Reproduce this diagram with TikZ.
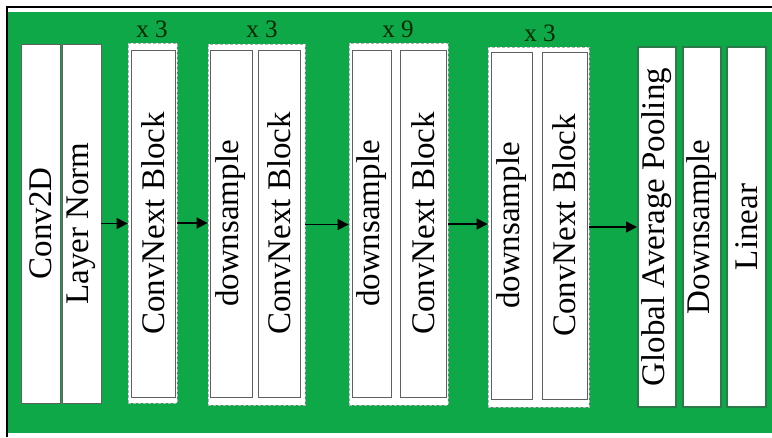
\documentclass[tikz,border=0pt]{standalone}
\usepackage{fontspec}
\usepackage{graphicx}
\setmainfont{Liberation Serif}
\usetikzlibrary{arrows.meta}
\definecolor{bggreen}{RGB}{14,168,72}
\definecolor{edgegreen}{RGB}{44,122,76}
\begin{document}
\begin{tikzpicture}[x=1pt,y=-1pt,
  box/.style={draw=gray!75!black, line width=0.7pt, fill=white, inner sep=0pt,
              font=\fontsize{33}{38}\selectfont},
  grp/.style={draw=gray!60, dash pattern=on 3pt off 2pt, line width=0.8pt, fill=white, inner sep=0pt},
  endbox/.style={draw=edgegreen, line width=2pt, fill=white, inner sep=0pt,
              font=\fontsize{33}{38}\selectfont},
  rep/.style={font=\fontsize{25}{28}\selectfont, text=black!85!green, inner sep=0pt},
  arr/.style={-{Triangle[length=11pt,width=11pt]}, line width=1.5pt}]
\useasboundingbox (0,0) rectangle (772,437);
\fill[white] (0,0) rectangle (772,437);
\fill[bggreen] (8,12) rectangle (772,433);
\draw[line width=1.2pt] (7,437) -- (7,7) -- (772,7);

% stem
\node[box, minimum width=39, minimum height=359] (conv) at (40.5,223.5) {\rotatebox{90}{Conv2D}};
\node[box, minimum width=39, minimum height=359] (ln) at (81.5,223.5) {\rotatebox{90}{Layer Norm}};

% stage 1
\node[grp, minimum width=49, minimum height=360] (g1) at (152.5,223) {};
\node[box, minimum width=44, minimum height=347] (cb1) at (153,223.5) {\rotatebox{90}{ConvNext Block}};
\node[rep] (r1) at (152,29) {x 3};

% stage 2
\node[grp, minimum width=97, minimum height=361] (g2) at (256.5,224.5) {};
\node[box, minimum width=42, minimum height=347] (ds2) at (231,223.5) {\rotatebox{90}{downsample}};
\node[box, minimum width=42, minimum height=347] (cb2) at (279,223.5) {\rotatebox{90}{ConvNext Block}};
\node[rep] (r2) at (262,29) {x 3};

% stage 3
\node[grp, minimum width=99, minimum height=362] (g3) at (398.5,224) {};
\node[box, minimum width=39, minimum height=347] (ds3) at (371.5,223.5) {\rotatebox{90}{downsample}};
\node[box, minimum width=46, minimum height=347] (cb3) at (423,223.5) {\rotatebox{90}{ConvNext Block}};
\node[rep] (r3) at (398,29.5) {x 9};

% stage 4
\node[grp, minimum width=101, minimum height=360] (g4) at (538.5,227) {};
\node[box, minimum width=41, minimum height=347] (ds4) at (511.5,225.5) {\rotatebox{90}{downsample}};
\node[box, minimum width=45, minimum height=347] (cb4) at (564.5,225.5) {\rotatebox{90}{ConvNext Block}};
\node[rep] (r4) at (540,33) {x 3};

% head
\node[endbox, minimum width=38, minimum height=360] (gap) at (657,227) {\rotatebox{90}{Global Average Pooling}};
\node[endbox, minimum width=38, minimum height=360] (dsh) at (702,227) {\rotatebox{90}{Downsample}};
\node[endbox, minimum width=39, minimum height=360] (lin) at (746.5,227) {\rotatebox{90}{Linear}};

% arrows
\draw[arr] (ln.east) -- (g1.west |- ln.east);
\draw[arr] (g1.east) -- (g2.west |- g1.east);
\draw[arr] (g2.east) -- (g3.west |- g2.east);
\draw[arr] (g3.east) -- (g4.west |- g3.east);
\draw[arr] (g4.east) -- (gap.west |- g4.east);
\end{tikzpicture}
\end{document}
